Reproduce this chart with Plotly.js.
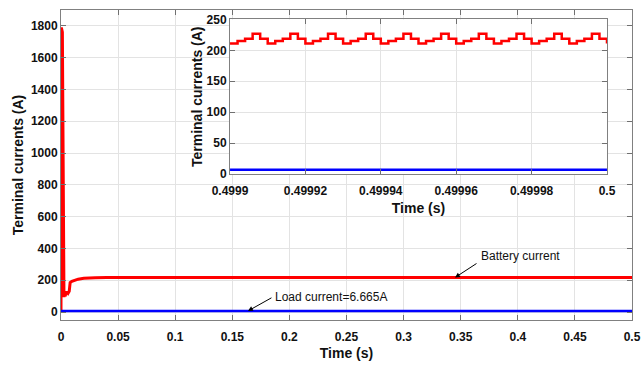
<!DOCTYPE html>
<html>
<head>
<meta charset="utf-8">
<script src="https://cdn.plot.ly/plotly-3.0.1.min.js"></script>
<style>html,body{margin:0;padding:0;background:#fff;}#chart{width:644px;height:365px;}</style>
</head>
<body>
<div id="chart"></div>
<script>
// ---- Data ----
// Main plot: battery current (A) vs time (s)
var tBattery = [0, 0.0003, 0.0012, 0.0019, 0.0026, 0.0032, 0.0042, 0.0052, 0.0062, 0.0072, 0.008, 0.0095, 0.012, 0.015, 0.02, 0.025, 0.03, 0.04, 0.1, 0.2, 0.3, 0.4, 0.5];
var iBattery = [0, 1790, 1760, 900, 95, 120, 112, 128, 118, 130, 185, 193, 200, 207, 212, 215, 216, 217, 217, 217, 217, 217, 217];
// Main plot: load current (A)
var tLoad = [0, 0.1, 0.2, 0.3, 0.4, 0.5];
var iLoad = [6.665, 6.665, 6.665, 6.665, 6.665, 6.665];

// Inset: zoomed battery current (step waveform, 2 us steps)
var tInset = [0.49990, 0.499902, 0.499904, 0.499906, 0.499908,
              0.49991, 0.499912, 0.499914, 0.499916, 0.499918,
              0.49992, 0.499922, 0.499924, 0.499926, 0.499928,
              0.49993, 0.499932, 0.499934, 0.499936, 0.499938,
              0.49994, 0.499942, 0.499944, 0.499946, 0.499948,
              0.49995, 0.499952, 0.499954, 0.499956, 0.499958,
              0.49996, 0.499962, 0.499964, 0.499966, 0.499968,
              0.49997, 0.499972, 0.499974, 0.499976, 0.499978,
              0.49998, 0.499982, 0.499984, 0.499986, 0.499988,
              0.49999, 0.499992, 0.499994, 0.499996, 0.499998,
              0.5];
var iInset = [211, 215, 219, 227, 219,
              211, 215, 219, 227, 219,
              211, 215, 219, 227, 219,
              211, 215, 219, 227, 219,
              211, 215, 219, 227, 219,
              211, 215, 219, 227, 219,
              211, 215, 219, 227, 219,
              211, 215, 219, 227, 219,
              211, 215, 219, 227, 219,
              211, 215, 219, 227, 219,
              211];
var tInsetLoad = [0.4999, 0.5];
var iInsetLoad = [6.665, 6.665];

// Tick labels
var mainXTicks = [0, 0.05, 0.1, 0.15, 0.2, 0.25, 0.3, 0.35, 0.4, 0.45, 0.5];
var mainXLabels = ['0', '0.05', '0.1', '0.15', '0.2', '0.25', '0.3', '0.35', '0.4', '0.45', '0.5'];
var mainYTicks = [0, 200, 400, 600, 800, 1000, 1200, 1400, 1600, 1800];
var insetXTicks = [0.4999, 0.49992, 0.49994, 0.49996, 0.49998, 0.5];
var insetXLabels = ['0.4999', '0.49992', '0.49994', '0.49996', '0.49998', '0.5'];
var insetYTicks = [0, 50, 100, 150, 200, 250];

// Annotation labels
var batteryLabel = 'Battery current';
var loadLabel = 'Load current=6.665A';

// ---- Chart ----
var FONT = 'Liberation Sans, Arial, Helvetica, sans-serif';
var RED = '#ff0000', BLUE = '#0000ff';
var tickFont = {family: FONT, size: 12, color: '#111', weight: 'bold'};
var titleFont = {family: FONT, size: 14, color: '#111', weight: 'bold'};

var traces = [
  {x: tBattery, y: iBattery, type: 'scatter', mode: 'lines', line: {color: RED, width: 3}, xaxis: 'x', yaxis: 'y', hoverinfo: 'skip'},
  {x: tLoad, y: iLoad, type: 'scatter', mode: 'lines', line: {color: BLUE, width: 2.5}, xaxis: 'x', yaxis: 'y', hoverinfo: 'skip'},
  {x: tInset, y: iInset, type: 'scatter', mode: 'lines', line: {color: RED, width: 2.5, shape: 'hv'}, xaxis: 'x2', yaxis: 'y2', hoverinfo: 'skip'},
  {x: tInsetLoad, y: iInsetLoad, type: 'scatter', mode: 'lines', line: {color: BLUE, width: 2.5}, xaxis: 'x2', yaxis: 'y2', hoverinfo: 'skip'}
];

var axisCommon = {
  showline: true, linecolor: '#808080', linewidth: 1, mirror: 'allticks',
  ticks: 'inside', ticklen: 5, tickcolor: '#707070', tickwidth: 1,
  showgrid: true, gridcolor: '#e3e3e3', gridwidth: 1, zeroline: false,
  tickfont: tickFont
};

var layout = {
  width: 644, height: 365,
  margin: {l: 61, r: 12, t: 10, b: 45, pad: 0},
  paper_bgcolor: '#ffffff', plot_bgcolor: '#ffffff',
  showlegend: false,
  xaxis: Object.assign({}, axisCommon, {
    domain: [0, 1], range: [0, 0.5], tickvals: mainXTicks, ticktext: mainXLabels, anchor: 'y',
    ticklabelstandoff: 6,
    title: {text: 'Time (s)', font: titleFont, standoff: 4}
  }),
  yaxis: Object.assign({}, axisCommon, {
    domain: [0, 1], range: [-50, 1900], tickvals: mainYTicks, anchor: 'x',
    title: {text: 'Terminal currents (A)', font: titleFont, standoff: 3}
  }),
  xaxis2: Object.assign({}, axisCommon, {
    domain: [0.2960, 0.9562], range: [0.4999, 0.5], tickvals: insetXTicks, ticktext: insetXLabels, anchor: 'y2',
    ticklabelstandoff: 6,
    title: {text: 'Time (s)', font: titleFont, standoff: 5}
  }),
  yaxis2: Object.assign({}, axisCommon, {
    domain: [0.4710, 0.9694], range: [0, 250], tickvals: insetYTicks, anchor: 'x2',
    title: {text: 'Terminal currents (A)', font: titleFont, standoff: 0}
  }),
  shapes: [
    {type: 'rect', xref: 'x2 domain', yref: 'y2 domain', x0: -0.138, x1: 1.045, y0: -0.3, y1: 1.0,
     fillcolor: '#ffffff', line: {width: 0}, layer: 'below'}
  ],
  annotations: [
    {x: 0.345, y: 217, xref: 'x', yref: 'y', text: '', showarrow: true, ax: 23, ay: -15,
     arrowhead: 2, arrowsize: 1, arrowwidth: 1, arrowcolor: '#000'},
    {x: 0.366, y: 352, xref: 'x', yref: 'y', text: batteryLabel, showarrow: false,
     xanchor: 'left', yanchor: 'middle', font: {family: FONT, size: 12, color: '#111'}},
    {x: 0.1637, y: 6.665, xref: 'x', yref: 'y', text: '', showarrow: true, ax: 25, ay: -14,
     arrowhead: 2, arrowsize: 1, arrowwidth: 1, arrowcolor: '#000'},
    {x: 0.1856, y: 94, xref: 'x', yref: 'y', text: loadLabel, showarrow: false,
     xanchor: 'left', yanchor: 'middle', font: {family: FONT, size: 12, color: '#111'}}
  ]
};

Plotly.newPlot('chart', traces, layout, {staticPlot: true, displayModeBar: false});
</script>
</body>
</html>
